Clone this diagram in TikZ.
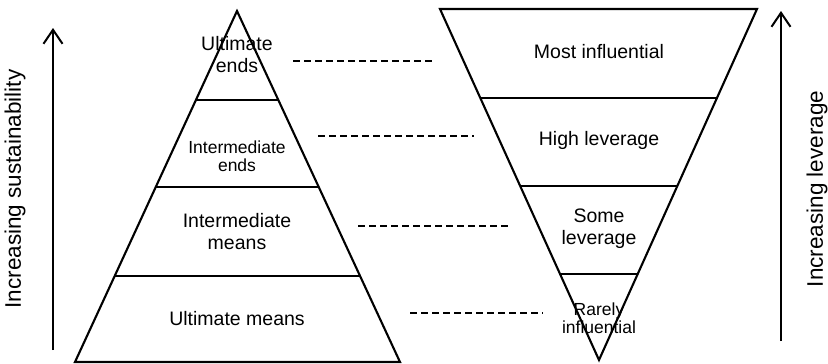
\documentclass[tikz,border=0pt]{standalone}
\usepackage{fontspec}
\setmainfont{Liberation Sans}
\usetikzlibrary{arrows.meta}

\tikzstyle{layer}=[align=center, inner sep=0pt, font=\fontsize{19.5}{22}\selectfont]
\tikzstyle{smalllayer}=[align=center, inner sep=0pt, font=\fontsize{17.5}{18}\selectfont]
\tikzstyle{axislabel}=[rotate=90, inner sep=0pt, font=\fontsize{22.5}{26}\selectfont]
\tikzstyle{edge}=[line width=2.1pt, line join=miter]
\tikzstyle{link}=[line width=2pt, dash pattern=on 7pt off 4pt]
\tikzstyle{rise}=[line width=2pt, -{Straight Barb[length=14pt, width=19pt, line width=2pt]}]

\begin{document}
\begin{tikzpicture}[x=1pt, y=-1pt]
        \useasboundingbox (0,0) rectangle (828,364);

        % pyramid
        \draw[edge] (75,362) -- (237,11) -- (400,362) -- cycle;
        \draw[edge] (195.8,100) -- (278.2,100);
        \draw[edge] (155.5,187) -- (318.5,187);
        \draw[edge] (114.3,276) -- (359.7,276);

        \node[layer](ue) at (237,55) {Ultimate\\ends};
        \node[smalllayer](ie) at (237,156) {Intermediate\\ends};
        \node[layer](im) at (237,232) {Intermediate\\means};
        \node[layer](um) at (237,319) {Ultimate means};

        % inverted pyramid
        \draw[edge] (440,9) -- (757,9) -- (599,360) -- cycle;
        \draw[edge] (480.7,98) -- (717.3,98);
        \draw[edge] (520.4,186) -- (677.6,186);
        \draw[edge] (560.2,274) -- (637.8,274);

        \node[layer](mi) at (599,52) {Most influential};
        \node[layer](hl) at (599,140) {High leverage};
        \node[layer](sl) at (599,229) {Some\\leverage};
        \node[smalllayer](ri) at (599,318) {Rarely\\influential};

        % dashed links
        \coordinate (l1a) at (293,61);  \coordinate (l1b) at (433,61);
        \coordinate (l2a) at (318,136); \coordinate (l2b) at (474,136);
        \coordinate (l3a) at (358,226); \coordinate (l3b) at (510,226);
        \coordinate (l4a) at (410,313); \coordinate (l4b) at (543,313);

        \draw[link] (l1a) -- (l1b);
        \draw[link] (l2a) -- (l2b);
        \draw[link] (l3a) -- (l3b);
        \draw[link] (l4a) -- (l4b);

        % side arrows
        \coordinate (sa) at (53,350);  \coordinate (sb) at (53,28);
        \coordinate (la) at (781,341); \coordinate (lb) at (781,11);
        \draw[rise] (sa) -- (sb);
        \draw[rise] (la) -- (lb);

        \node[axislabel](sus) at (15,189) {Increasing sustainability};
        \node[axislabel](lev) at (817,189) {Increasing leverage};
    \end{tikzpicture}
\end{document}
